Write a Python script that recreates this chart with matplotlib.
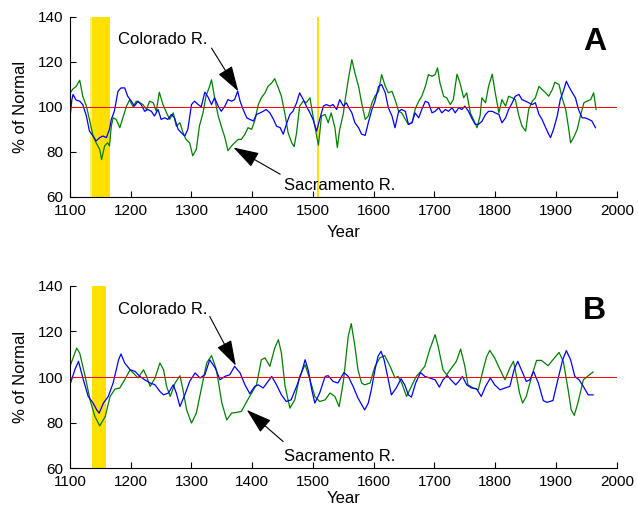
import matplotlib.pyplot as plt

plt.rcParams['font.family'] = ['Liberation Sans', 'DejaVu Sans']

# panel A (noisy running means)
col_a_years = [1100, 1103, 1105, 1110, 1116, 1121, 1127, 1132, 1138, 1143, 1149, 1154, 1160, 1165, 1168, 1173,
               1179, 1184, 1190, 1195, 1201, 1206, 1212, 1217, 1223, 1228, 1234, 1239, 1245, 1250, 1256, 1261,
               1267, 1272, 1278, 1283, 1289, 1294, 1300, 1305, 1311, 1316, 1322, 1327, 1333, 1338, 1344, 1349,
               1355, 1360, 1366, 1371, 1376, 1380, 1385, 1391, 1396, 1402, 1407, 1413, 1418, 1423, 1429, 1435,
               1440, 1446, 1451, 1457, 1462, 1467, 1473, 1478, 1484, 1489, 1495, 1500, 1506, 1511, 1517, 1522,
               1528, 1533, 1539, 1544, 1550, 1555, 1559, 1564, 1569, 1575, 1580, 1586, 1591, 1597, 1602, 1608,
               1613, 1619, 1624, 1630, 1635, 1641, 1646, 1652, 1657, 1663, 1668, 1674, 1679, 1685, 1690, 1696,
               1701, 1707, 1712, 1718, 1723, 1729, 1734, 1740, 1745, 1750, 1756, 1761, 1767, 1772, 1778, 1784,
               1789, 1795, 1800, 1806, 1811, 1817, 1822, 1828, 1833, 1839, 1844, 1850, 1855, 1861, 1866, 1872,
               1877, 1883, 1888, 1891, 1896, 1902, 1907, 1913, 1917, 1921, 1927, 1932, 1937, 1943, 1948, 1954,
               1959, 1965]
col_a = [95.1, 103, 105.5, 103, 102.5, 101, 95.9, 89.2, 87, 84.8, 86.3, 87, 86.3, 90, 94.4, 98,
         106.9, 108.4, 108.4, 104.7, 102.5, 100.3, 102.5, 101, 98, 98.8, 98, 95.9, 98.8, 94.4, 95.1, 94.4,
         96.6, 95.1, 90, 88.5, 87, 90, 101, 102.5, 101, 100, 106.5, 104.5, 101, 104, 100.3, 98,
         100.3, 103.2, 102.5, 103.2, 107, 102.5, 98.8, 95.1, 94.4, 93.7, 96.6, 97.3, 98, 98.8, 97.3, 94.4,
         91.4, 90.7, 87.8, 92.9, 96.6, 98, 101.8, 106.2, 103.2, 100.3, 97.3, 94.4, 89.2, 94.4, 100.3, 101,
         100.3, 101, 98.8, 103.2, 100.3, 101.8, 99.6, 97.3, 92.9, 90.7, 87.8, 87.3, 92.9, 98.8, 102.5, 109.1,
         109.9, 106.2, 99.6, 95.9, 90.7, 98, 98.8, 98, 92.2, 92.9, 97.3, 95.1, 98.8, 102.5, 101.8, 97.3,
         98, 99.6, 97.3, 98.8, 98, 99.6, 97.3, 99.6, 98.8, 100.3, 98, 95.1, 92.2, 92.2, 93.5, 96.6,
         98, 98, 97.3, 96.6, 92.9, 95.1, 98.8, 101.8, 104.7, 105.5, 103.2, 102.5, 101.8, 101, 101.8, 96.6,
         94.4, 90.7, 87.8, 86.3, 90, 95.9, 103.2, 107.7, 111.4, 109.1, 106.2, 104, 98.8, 95.1, 95.1, 94.4,
         93.7, 90.7]

sac_a_years = [1100, 1105, 1110, 1116, 1121, 1127, 1132, 1138, 1143, 1149, 1152, 1157, 1162, 1165, 1168, 1171,
               1176, 1182, 1187, 1193, 1198, 1204, 1209, 1215, 1220, 1226, 1231, 1237, 1242, 1247, 1253, 1259,
               1264, 1270, 1275, 1281, 1286, 1291, 1297, 1302, 1308, 1313, 1319, 1324, 1329, 1333, 1338, 1344,
               1349, 1355, 1360, 1366, 1371, 1377, 1382, 1388, 1393, 1399, 1404, 1410, 1415, 1421, 1426, 1432,
               1437, 1443, 1448, 1454, 1459, 1465, 1469, 1473, 1478, 1484, 1489, 1495, 1500, 1506, 1509, 1514,
               1520, 1525, 1530, 1536, 1540, 1544, 1550, 1553, 1559, 1564, 1569, 1575, 1580, 1586, 1591, 1597,
               1602, 1608, 1613, 1619, 1624, 1630, 1635, 1641, 1646, 1652, 1657, 1663, 1668, 1674, 1679, 1685,
               1690, 1696, 1701, 1705, 1709, 1715, 1720, 1726, 1731, 1737, 1742, 1748, 1753, 1759, 1764, 1770,
               1775, 1778, 1784, 1789, 1795, 1800, 1806, 1811, 1817, 1822, 1828, 1833, 1839, 1844, 1850, 1855,
               1861, 1866, 1872, 1877, 1883, 1888, 1894, 1898, 1905, 1910, 1916, 1921, 1924, 1929, 1935, 1940,
               1946, 1951, 1957, 1962, 1966]
sac_a = [106, 108, 109, 111.8, 104.7, 100.3, 94.4, 87, 84, 81, 76.5, 82.6, 84, 82.6, 91.4, 95.1,
         94.4, 90.7, 95, 100.3, 103, 100, 102.5, 101.8, 101, 98.8, 102.5, 101.8, 98, 106.5, 101, 97.3,
         94.4, 97.3, 91.4, 92.9, 88.5, 85.5, 84, 78.2, 81.1, 91.4, 97.3, 105, 108.5, 112, 104, 95.9,
         91.4, 86.3, 80.5, 82.6, 84, 85.5, 85.5, 87.8, 90.7, 90, 93.7, 101, 104, 106.2, 109.1, 110.6,
         112.5, 108.4, 104.7, 96.6, 88.5, 84, 82.3, 88.5, 100.3, 102.5, 101.8, 104, 95.9, 87, 82.9, 95.9,
         96.6, 92.9, 97.3, 90.7, 81.9, 90, 97, 103.2, 113.6, 121, 115, 109.1, 101.8, 94.4, 95.9, 101.8,
         104.7, 106.9, 114.3, 109.1, 106.2, 106.9, 103.2, 98, 97.3, 94.4, 92.2, 92.9, 98.8, 102.5, 104.7, 109.1,
         114.3, 113.6, 114.3, 117.3, 110.6, 104.7, 104, 101, 103.2, 114.5, 110.6, 104, 106.2, 97.3, 94.4, 90.7,
         96, 104, 101.8, 109.1, 114.5, 106.2, 97.3, 103.2, 100.3, 104.7, 104, 103.2, 95.9, 91.4, 89.2, 98.8,
         102.5, 104, 109.1, 107.7, 106.2, 104.7, 107.7, 110.9, 109.9, 104, 98.8, 90, 84, 86.3, 90, 95.9,
         101.8, 102.5, 103.2, 106.2, 98.8]

# panel B (smoothed)
col_b_years = [1100, 1108, 1114, 1122, 1130, 1138, 1144, 1148, 1155, 1163, 1171, 1180, 1184, 1190, 1199, 1207,
               1215, 1223, 1232, 1240, 1248, 1254, 1262, 1270, 1275, 1281, 1289, 1297, 1306, 1314, 1322, 1330,
               1339, 1347, 1355, 1363, 1371, 1380, 1388, 1396, 1404, 1410, 1418, 1426, 1432, 1440, 1448, 1456,
               1464, 1473, 1481, 1487, 1492, 1498, 1503, 1511, 1520, 1525, 1533, 1541, 1551, 1558, 1566, 1574,
               1585, 1591, 1596, 1602, 1607, 1612, 1617, 1624, 1629, 1637, 1645, 1651, 1657, 1662, 1669, 1677,
               1684, 1692, 1701, 1708, 1714, 1721, 1728, 1735, 1740, 1746, 1753, 1761, 1769, 1777, 1784, 1792,
               1799, 1808, 1816, 1824, 1831, 1837, 1843, 1851, 1857, 1863, 1871, 1879, 1885, 1895, 1903, 1911,
               1917, 1924, 1931, 1938, 1945, 1953, 1961]
col_b = [96.6, 103.2, 106.9, 98.8, 91.5, 88.6, 85.6, 84.2, 88.6, 91.5, 97.4, 107.6, 110.1, 106.2, 103.2, 102.5,
         100.3, 98.8, 97.4, 96.6, 93.7, 92.2, 93, 96.6, 93, 87.1, 92.2, 98.1, 101.8, 99.6, 101, 107.6,
         104, 98.8, 100.3, 101, 104.7, 101.8, 96.6, 92.7, 95.9, 96.6, 95.2, 98.1, 100.3, 96.6, 92.2, 89.3,
         90, 95.9, 101.8, 107.6, 103.2, 94.4, 88.6, 93, 100.3, 100.6, 98.1, 97.4, 102, 100.3, 95.9, 90.8,
         85.6, 88.6, 94.4, 103.2, 109.1, 111.3, 107.6, 98.8, 92.2, 95.2, 99.3, 96.6, 92.2, 91.2, 97.4, 102,
         100.3, 99.6, 98.8, 95.6, 98.8, 100.7, 98.5, 96.6, 98.1, 100.3, 96.6, 95.2, 94.9, 91.5, 95.9, 99.6,
         96.6, 94.4, 95.2, 95.9, 103.2, 106.9, 103.2, 98.1, 98.8, 102.5, 97.4, 89.7, 88.9, 89.7, 98.8, 107.6,
         111.6, 107.6, 100.3, 98.8, 95.9, 92.2, 92.2]

sac_b_years = [1100, 1111, 1116, 1125, 1133, 1141, 1149, 1158, 1166, 1174, 1182, 1190, 1199, 1207, 1212, 1221,
               1226, 1232, 1240, 1248, 1254, 1259, 1265, 1273, 1281, 1286, 1292, 1300, 1308, 1317, 1325, 1333,
               1341, 1350, 1358, 1366, 1374, 1382, 1391, 1399, 1407, 1415, 1421, 1429, 1437, 1443, 1448, 1454,
               1462, 1470, 1478, 1487, 1495, 1503, 1511, 1520, 1528, 1536, 1543, 1550, 1558, 1563, 1569, 1574,
               1580, 1585, 1594, 1602, 1610, 1618, 1627, 1635, 1640, 1646, 1654, 1662, 1670, 1676, 1684, 1692,
               1701, 1706, 1714, 1720, 1728, 1736, 1743, 1750, 1755, 1764, 1772, 1780, 1786, 1791, 1799, 1808,
               1816, 1824, 1830, 1835, 1840, 1845, 1851, 1860, 1868, 1876, 1887, 1895, 1905, 1912, 1920, 1925,
               1930, 1936, 1945, 1953, 1961]
sac_b = [104.7, 112.7, 110.5, 100.3, 90, 82.7, 78.6, 82.7, 91.5, 94.7, 95.2, 98.8, 103.2, 101, 99.6, 103.2,
         100.3, 95.9, 99.6, 106.2, 103.2, 95.9, 91.5, 97.4, 100.6, 94.4, 85.6, 79.8, 84.2, 95.9, 106.2, 109.4,
         103.2, 88.6, 81.2, 84.2, 84.5, 84.9, 89.3, 93, 96.6, 107.6, 108.4, 104.7, 112.7, 116.4, 110.5, 95.9,
         86.4, 90, 100.3, 105.4, 98.8, 91.5, 89.3, 90, 93, 91.5, 87, 98, 117.9, 123.4, 113.5, 103.2,
         97.4, 96.6, 97.4, 104.7, 108.4, 109.4, 104.7, 99.6, 100.3, 97.4, 91.5, 95.9, 100.3, 102, 104.7, 112,
         118.6, 113.5, 103.2, 101, 104, 106.9, 112.3, 104.7, 96.6, 95.2, 94.4, 103.2, 109.1, 111.7, 108.4, 103.2,
         98.8, 104, 106.9, 100.3, 93, 88.6, 91.5, 100.3, 107.3, 107.3, 105, 107.6, 110.8, 106.9, 94.4, 85.6,
         83.2, 88.6, 98.8, 100.6, 102.2]

blue = '#0000ff'
green = '#008000'
yellow = '#ffe000'

fig = plt.figure(figsize=(6.38, 5.11), dpi=100)
ax1 = fig.add_axes([0.1097, 0.615, 0.857, 0.352])
ax2 = fig.add_axes([0.1097, 0.0836, 0.857, 0.357])

# drought bands
ax1.axvspan(1133, 1136, color='#fff07a', lw=0)
ax1.axvspan(1137, 1166, color=yellow, lw=0)
ax1.axvspan(1507, 1510, color=yellow, lw=0)
ax2.axvspan(1136, 1159, color=yellow, lw=0)

ax1.plot(sac_a_years, sac_a, color=green, lw=0.9)
ax1.plot(col_a_years, col_a, color=blue, lw=0.9)
ax2.plot(sac_b_years, sac_b, color=green, lw=0.9)
ax2.plot(col_b_years, col_b, color=blue, lw=0.9)

arrow = dict(arrowstyle='-|>,head_length=1.6,head_width=0.5', color='k', lw=0.8,
             mutation_scale=10, shrinkA=0, shrinkB=0)

for ax in [ax1, ax2]:
    ax.axhline(100, color='r', lw=0.7)
    ax.set_xlim(1100, 2000)
    ax.set_ylim(60, 140)
    ax.set_xticks(range(1100, 2001, 100))
    ax.set_yticks(range(60, 141, 20))
    ax.spines['top'].set_visible(False)
    ax.spines['right'].set_visible(False)
    ax.tick_params(direction='in', labelsize=11, length=4, pad=5)
    ax.set_ylabel('% of Normal', fontsize=12, labelpad=7)

ax1.set_xlabel('Year', fontsize=12, labelpad=5)
ax2.set_xlabel('Year', fontsize=12, labelpad=1)

ax1.text(1253, 129.8, 'Colorado R.', fontsize=12, ha='center', va='center')
ax1.annotate('', xy=(1377, 106.9), xytext=(1333, 126.1), arrowprops=arrow)
ax1.text(1544, 64.9, 'Sacramento R.', fontsize=12, ha='center', va='center')
ax1.annotate('', xy=(1369, 81.9), xytext=(1446, 70), arrowprops=arrow)
ax1.text(0.96, 0.86, 'A', transform=ax1.transAxes, fontsize=23, fontweight='bold',
         ha='center', va='center')

ax2.text(1253, 129.6, 'Colorado R.', fontsize=12, ha='center', va='center')
ax2.annotate('', xy=(1373, 105), xytext=(1330, 126.6), arrowprops=arrow)
ax2.text(1544, 65.1, 'Sacramento R.', fontsize=12, ha='center', va='center')
ax2.annotate('', xy=(1391, 85.6), xytext=(1451, 71.7), arrowprops=arrow)
ax2.text(0.96, 0.86, 'B', transform=ax2.transAxes, fontsize=23, fontweight='bold',
         ha='center', va='center')

plt.savefig('out.png')
